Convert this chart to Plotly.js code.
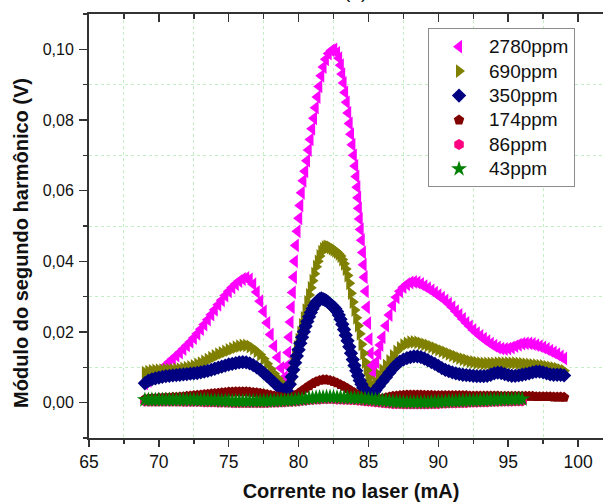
<!DOCTYPE html>
<html>
<head>
<meta charset="utf-8">
<script src="https://cdn.plot.ly/plotly-3.0.1.min.js"></script>
<style>
html,body{margin:0;padding:0;overflow:hidden;background:#fff;width:603px;height:502px;}
#chart{position:absolute;left:0;top:0;width:613px;height:502px;}
</style>
</head>
<body>
<div id="chart"></div>
<script>
// ---- sample grids (mA) ----
const xGrid = [69,69.25,69.5,69.75,70,70.25,70.5,70.75,71,71.25,71.5,71.75,72,72.25,72.5,72.75,73,73.25,73.5,73.75,74,74.25,74.5,74.75,75,75.25,75.5,75.75,76,76.25,76.5,76.75,77,77.25,77.5,77.75,78,78.25,78.5,78.75,79,79.25,79.5,79.75,80,80.25,80.5,80.75,81,81.25,81.5,81.75,82,82.25,82.5,82.75,83,83.25,83.5,83.75,84,84.25,84.5,84.75,85,85.25,85.5,85.75,86,86.25,86.5,86.75,87,87.25,87.5,87.75,88,88.25,88.5,88.75,89,89.25,89.5,89.75,90,90.25,90.5,90.75,91,91.25,91.5,91.75,92,92.25,92.5,92.75,93,93.25,93.5,93.75,94,94.25,94.5,94.75,95,95.25,95.5,95.75,96,96.25,96.5,96.75,97,97.25,97.5,97.75,98,98.25,98.5,98.75,99];
const xShort = [69,69.25,69.5,69.75,70,70.25,70.5,70.75,71,71.25,71.5,71.75,72,72.25,72.5,72.75,73,73.25,73.5,73.75,74,74.25,74.5,74.75,75,75.25,75.5,75.75,76,76.25,76.5,76.75,77,77.25,77.5,77.75,78,78.25,78.5,78.75,79,79.25,79.5,79.75,80,80.25,80.5,80.75,81,81.25,81.5,81.75,82,82.25,82.5,82.75,83,83.25,83.5,83.75,84,84.25,84.5,84.75,85,85.25,85.5,85.75,86,86.25,86.5,86.75,87,87.25,87.5,87.75,88,88.25,88.5,88.75,89,89.25,89.5,89.75,90,90.25,90.5,90.75,91,91.25,91.5,91.75,92,92.25,92.5,92.75,93,93.25,93.5,93.75,94,94.25,94.5,94.75,95,95.25,95.5,95.75,96];
const xFine = [69,69.25,69.5,69.75,70,70.25,70.5,70.75,71,71.25,71.5,71.75,72,72.25,72.5,72.75,73,73.25,73.5,73.75,74,74.25,74.5,74.75,75,75.25,75.5,75.75,76,76.25,76.5,76.75,77,77.25,77.5,77.75,78,78.25,78.5,78.75,79,
79.125,79.25,79.375,79.5,79.625,79.75,79.875,
80,80.125,80.25,80.375,80.5,80.625,80.75,80.875,
81,81.125,81.25,81.375,81.5,81.625,81.75,81.875,
82,82.125,82.25,82.375,82.5,82.625,82.75,82.875,
83,83.125,83.25,83.375,83.5,83.625,83.75,83.875,
84,84.125,84.25,84.375,84.5,84.625,84.75,84.875,
85,85.125,85.25,85.375,85.5,
85.75,86,86.25,86.5,86.75,87,87.25,87.5,87.75,88,88.25,88.5,88.75,89,89.25,89.5,89.75,90,90.25,90.5,90.75,91,91.25,91.5,91.75,92,92.25,92.5,92.75,93,93.25,93.5,93.75,94,94.25,94.5,94.75,95,95.25,95.5,95.75,96,96.25,96.5,96.75,97,97.25,97.5,97.75,98,98.25,98.5,98.75,99];
const xMagenta = [69,69.25,69.5,69.75,70,70.25,70.5,70.75,71,71.25,71.5,71.75,72,72.25,72.5,72.75,73,73.25,73.5,73.75,74,74.25,74.5,74.75,75,75.25,75.5,75.75,76,76.25,76.5,76.75,77,77.25,77.5,77.75,78,78.25,78.5,78.75,79,
79.05,79.15,79.25,79.33,79.42,79.5,79.58,79.66,79.73,79.8,
79.92,80.04,80.12,80.22,80.34,80.47,80.6,80.72,80.85,80.97,
81.1,81.22,81.35,81.48,81.62,81.78,81.95,82.15,82.35,82.55,
82.75,82.9,83.02,83.12,83.22,83.33,83.44,83.55,83.65,83.75,
83.85,83.95,84.05,84.13,84.2,84.26,84.31,84.37,84.44,84.52,
84.6,84.65,84.72,84.8,84.88,84.97,85.07,85.15,85.22,85.3,
85.4,85.55,85.7,85.85,86,86.25,86.5,86.75,87,87.25,87.5,87.75,88,88.25,88.5,88.75,89,89.25,89.5,89.75,90,90.25,90.5,90.75,91,91.25,91.5,91.75,92,92.25,92.5,92.75,93,93.25,93.5,93.75,94,94.25,94.5,94.75,95,95.25,95.5,95.75,96,96.25,96.5,96.75,97,97.25,97.5,97.75,98,98.25,98.5,98.75,99];

// ---- series values (V) ----
const y2780 = [0.0055,0.0062,0.0070,0.0079,0.0088,0.0097,0.0106,0.0115,0.0124,0.0133,0.0142,0.0152,0.0162,0.0172,0.0183,0.0195,0.0208,0.0221,0.0235,0.0249,0.0263,0.0277,0.0290,0.0303,0.0315,0.0326,0.0336,0.0344,0.0350,0.0353,0.0349,0.0335,0.0313,0.0287,0.0258,0.0226,0.0193,0.0160,0.0128,0.0098,0.0072,
0.0065,0.0104,0.0142,0.0185,0.0228,0.0270,0.0312,0.0355,0.0400,0.0445,
0.0485,0.0522,0.0558,0.0594,0.0628,0.0655,0.0685,0.0715,0.0745,0.0775,
0.0805,0.0835,0.0865,0.0895,0.0925,0.0950,0.0972,0.0988,0.0997,0.1000,
0.0990,0.0975,0.0955,0.0930,0.0905,0.0878,0.0850,0.0820,0.0790,0.0760,
0.0730,0.0700,0.0670,0.0640,0.0610,0.0580,0.0550,0.0520,0.0490,0.0460,
0.0425,0.0390,0.0355,0.0315,0.0270,0.0225,0.0180,0.0140,0.0105,0.0080,
0.0092,0.0115,0.0140,0.0163,0.0185,0.0218,0.0248,0.0275,0.0298,0.0315,0.0327,0.0335,0.0340,0.0342,0.0340,0.0336,0.0330,0.0324,0.0318,0.0311,0.0304,0.0297,0.0289,0.0280,0.0270,0.0259,0.0248,0.0237,0.0226,0.0216,0.0206,0.0197,0.0189,0.0181,0.0174,0.0167,0.0161,0.0156,0.0153,0.0152,0.0153,0.0156,0.0160,0.0164,0.0167,0.0168,0.0168,0.0166,0.0163,0.0160,0.0156,0.0152,0.0147,0.0142,0.0137,0.0131,0.0125];

const y690 = [0.0085,0.0088,0.0090,0.0091,0.0092,0.0092,0.0093,0.0093,0.0093,0.0094,0.0095,0.0097,0.0099,0.0101,0.0104,0.0108,0.0112,0.0117,0.0122,0.0127,0.0132,0.0137,0.0141,0.0145,0.0149,0.0153,0.0157,0.0160,0.0162,0.0162,0.0159,0.0153,0.0145,0.0136,0.0124,0.0110,0.0095,0.0082,0.0069,0.0057,0.0046,
0.0040,0.0042,0.0062,0.0085,0.0110,0.0135,0.0158,
0.0178,0.0198,0.0220,0.0240,0.0262,0.0285,0.0305,0.0325,
0.0345,0.0365,0.0385,0.0400,0.0415,0.0427,0.0435,0.0440,
0.0442,0.0441,0.0439,0.0436,0.0433,0.0430,0.0426,0.0421,
0.0415,0.0405,0.0393,0.0378,0.0360,0.0338,0.0310,0.0285,
0.0262,0.0240,0.0218,0.0195,0.0165,0.0140,0.0115,0.0092,
0.0070,0.0052,0.0042,0.0046,0.0058,
0.0078,0.0092,0.0105,0.0118,0.0132,0.0145,0.0155,0.0163,0.0168,0.0171,0.0172,0.0171,0.0168,0.0165,0.0162,0.0158,0.0154,0.0150,0.0146,0.0142,0.0138,0.0134,0.0130,0.0126,0.0123,0.0120,0.0117,0.0115,0.0113,0.0112,0.0111,0.0111,0.0111,0.0111,0.0112,0.0112,0.0112,0.0112,0.0112,0.0112,0.0111,0.0110,0.0109,0.0108,0.0107,0.0106,0.0105,0.0104,0.0102,0.0100,0.0098,0.0096,0.0093,0.0090];

const y350 = [0.0055,0.0062,0.0066,0.0069,0.0071,0.0073,0.0075,0.0076,0.0077,0.0078,0.0079,0.0080,0.0081,0.0082,0.0083,0.0084,0.0086,0.0088,0.0090,0.0093,0.0096,0.0099,0.0102,0.0105,0.0108,0.0110,0.0112,0.0114,0.0115,0.0114,0.0111,0.0106,0.0100,0.0093,0.0084,0.0075,0.0066,0.0057,0.0047,0.0038,0.0028,
0.0012,0.0030,0.0052,0.0073,0.0093,0.0113,0.0132,
0.0150,0.0168,0.0185,0.0201,0.0216,0.0230,0.0243,0.0255,
0.0266,0.0275,0.0283,0.0289,0.0293,0.0295,0.0293,0.0291,
0.0288,0.0284,0.0279,0.0275,0.0271,0.0266,0.0258,0.0248,
0.0236,0.0222,0.0207,0.0191,0.0175,0.0158,0.0140,0.0122,
0.0105,0.0090,0.0076,0.0063,0.0052,0.0042,0.0034,0.0028,
0.0024,0.0022,0.0024,0.0029,0.0035,
0.0047,0.0060,0.0072,0.0085,0.0097,0.0108,0.0116,0.0122,0.0126,0.0129,0.0131,0.0131,0.0129,0.0125,0.0120,0.0115,0.0110,0.0104,0.0098,0.0093,0.0089,0.0086,0.0083,0.0081,0.0079,0.0078,0.0077,0.0076,0.0075,0.0075,0.0075,0.0076,0.0079,0.0083,0.0085,0.0084,0.0081,0.0078,0.0076,0.0076,0.0077,0.0079,0.0081,0.0083,0.0086,0.0088,0.0088,0.0086,0.0083,0.0080,0.0079,0.0079,0.0079,0.0077];

const y174 = [0.0010,0.0011,0.0012,0.0012,0.0013,0.0013,0.0014,0.0014,0.0015,0.0015,0.0016,0.0017,0.0018,0.0019,0.0020,0.0021,0.0022,0.0023,0.0024,0.0025,0.0026,0.0027,0.0028,0.0029,0.0030,0.0030,0.0031,0.0031,0.0031,0.0031,0.0030,0.0029,0.0028,0.0027,0.0025,0.0023,0.0021,0.0019,0.0017,0.0015,0.0013,0.0012,0.0014,0.0020,0.0027,0.0034,0.0041,0.0048,0.0054,0.0059,0.0063,0.0065,0.0065,0.0063,0.0060,0.0056,0.0051,0.0046,0.0040,0.0034,0.0028,0.0022,0.0016,0.0010,0.0005,0.0004,0.0006,0.0009,0.0012,0.0014,0.0016,0.0018,0.0019,0.0020,0.0021,0.0022,0.0022,0.0022,0.0022,0.0022,0.0021,0.0021,0.0021,0.0020,0.0020,0.0020,0.0020,0.0020,0.0020,0.0020,0.0020,0.0020,0.0020,0.0019,0.0019,0.0019,0.0019,0.0019,0.0019,0.0019,0.0019,0.0019,0.0018,0.0018,0.0018,0.0018,0.0018,0.0018,0.0018,0.0018,0.0018,0.0018,0.0017,0.0017,0.0017,0.0017,0.0017,0.0016,0.0016,0.0016,0.0015];

const y86 = [0.0004,0.0004,0.0004,0.0004,0.0004,0.0004,0.0004,0.0004,0.0004,0.0004,0.0004,0.0003,0.0003,0.0003,0.0003,0.0003,0.0003,0.0002,0.0002,0.0002,0.0002,0.0001,0.0001,0.0001,0.0001,0.0000,0.0000,0.0000,0.0000,0.0000,0.0000,0.0000,0.0000,0.0000,0.0000,0.0000,0.0001,0.0001,0.0001,0.0002,0.0002,0.0003,0.0003,0.0004,0.0005,0.0006,0.0007,0.0008,0.0009,0.0010,0.0010,0.0011,0.0011,0.0011,0.0011,0.0010,0.0010,0.0009,0.0009,0.0008,0.0008,0.0007,0.0006,0.0005,0.0004,0.0003,0.0002,0.0001,0.0000,-0.0001,-0.0002,-0.0003,-0.0003,-0.0003,-0.0004,-0.0004,-0.0004,-0.0004,-0.0004,-0.0004,-0.0004,-0.0004,-0.0003,-0.0003,-0.0003,-0.0002,-0.0002,-0.0001,-0.0001,-0.0001,0.0000,0.0000,0.0000,0.0001,0.0001,0.0001,0.0002,0.0002,0.0002,0.0003,0.0003,0.0003,0.0004,0.0004,0.0004,0.0004,0.0005,0.0005,0.0005];

const y43 = [0.0008,0.0008,0.0008,0.0008,0.0008,0.0008,0.0008,0.0008,0.0008,0.0008,0.0008,0.0008,0.0008,0.0008,0.0008,0.0007,0.0007,0.0007,0.0007,0.0006,0.0006,0.0006,0.0005,0.0005,0.0005,0.0004,0.0004,0.0004,0.0004,0.0004,0.0004,0.0004,0.0004,0.0004,0.0004,0.0004,0.0005,0.0005,0.0005,0.0006,0.0006,0.0007,0.0007,0.0008,0.0009,0.0010,0.0011,0.0012,0.0013,0.0014,0.0015,0.0015,0.0016,0.0016,0.0016,0.0015,0.0015,0.0014,0.0014,0.0013,0.0013,0.0012,0.0012,0.0011,0.0010,0.0009,0.0008,0.0007,0.0006,0.0005,0.0004,0.0003,0.0002,0.0002,0.0001,0.0001,0.0001,0.0001,0.0001,0.0001,0.0001,0.0001,0.0002,0.0002,0.0002,0.0003,0.0003,0.0004,0.0004,0.0004,0.0005,0.0005,0.0005,0.0006,0.0006,0.0006,0.0007,0.0007,0.0007,0.0008,0.0008,0.0008,0.0009,0.0009,0.0009,0.0009,0.0010,0.0010,0.0010];

const seriesNames = ['2780ppm','690ppm','350ppm','174ppm','86ppm','43ppm'];
const seriesColors = ['#ff00ff','#808000','#000080','#800000','#ff0080','#008000'];
const seriesSymbols = ['triangle-left','triangle-right','diamond','pentagon','hexagon','star'];
const seriesX = [xMagenta, xFine, xFine, xGrid, xShort, xShort];
const seriesY = [y2780, y690, y350, y174, y86, y43];
const markerSizes = [12,12,11,11,11,12];
const yTitle = 'Módulo do segundo harmônico (V)';
const xTitle = 'Corrente no laser (mA)';

const FONT = 'Liberation Sans, Arial, sans-serif';
const AX = '#333333';
const GRID = '#c4efc4';

const traces = seriesNames.map((n,i)=>({
  type:'scatter', mode:'markers',
  name:'<span style="font-size:19px">'+n+'</span>',
  x:seriesX[i], y:seriesY[i],
  marker:{symbol:seriesSymbols[i], size:markerSizes[i], color:seriesColors[i], line:{width:0}},
  hoverinfo:'skip'
}));
// empty carrier so the top (mirrored) axis is drawn
traces.push({type:'scatter', mode:'markers', x:[], y:[], xaxis:'x2', yaxis:'y', showlegend:false, hoverinfo:'skip'});

const layout = {
  width:613, height:502,
  margin:{l:89, r:0, t:14, b:64},
  paper_bgcolor:'#ffffff', plot_bgcolor:'#ffffff',
  separators:',.',
  font:{family:FONT, color:'#111'},
  showlegend:true,
  xaxis:{
    range:[65,102.5], tick0:65, dtick:5, ticks:'outside', ticklen:7, tickwidth:1.5, tickcolor:AX,
    showline:true, linecolor:AX, linewidth:2, showgrid:false, zeroline:false,
    tickfont:{family:FONT, size:17.5, color:'#111'},
    minor:{tick0:65, dtick:2.5, ticks:'outside', ticklen:4, tickwidth:1.5, tickcolor:AX, showgrid:true, gridcolor:GRID, griddash:'dot', gridwidth:1},
    title:{text:xTitle, font:{family:FONT, size:20, weight:'bold', color:'#111'}, standoff:19}
  },
  xaxis2:{
    overlaying:'x', side:'top', anchor:'y', range:[65,102.5], tick0:65, dtick:5,
    ticks:'inside', ticklen:8, tickwidth:1.5, tickcolor:AX, showticklabels:false,
    showline:true, linecolor:AX, linewidth:2, showgrid:false, zeroline:false,
    minor:{tick0:65, dtick:2.5, ticks:'inside', ticklen:5, tickwidth:1.5, tickcolor:AX, showgrid:false}
  },
  yaxis:{
    range:[-0.01,0.11], tick0:0, dtick:0.02, tickformat:'.2f', ticks:'outside', ticklen:8, tickwidth:1.5, tickcolor:AX,
    showline:true, linecolor:AX, linewidth:2, showgrid:false, zeroline:false,
    tickfont:{family:FONT, size:16, color:'#111'}, ticklabelstandoff:2,
    minor:{tick0:0, dtick:0.01, ticks:'outside', ticklen:4, tickwidth:1.5, tickcolor:AX, showgrid:true, gridcolor:GRID, griddash:'dot', gridwidth:1}
  },
  legend:{
    x:0.647, y:0.966, xanchor:'left', yanchor:'top',
    bgcolor:'#ffffff', bordercolor:'#8c8c8c', borderwidth:1,
    font:{family:FONT, size:16.5, color:'#111'}, itemwidth:50
  },
  annotations:[
    {text:'(b)', xref:'paper', yref:'paper', x:0.508, y:1, xanchor:'center', yanchor:'bottom', yshift:10, showarrow:false, font:{family:FONT, size:19, color:'#111'}},
    {text:'<b>'+yTitle+'</b>', xref:'paper', yref:'paper', x:-0.1298, y:0.46, xanchor:'center', yanchor:'middle', textangle:-90, showarrow:false, font:{family:FONT, size:20, color:'#111'}}
  ]
};

Plotly.newPlot('chart', traces, layout, {staticPlot:true, displayModeBar:false});
</script>
</body>
</html>
